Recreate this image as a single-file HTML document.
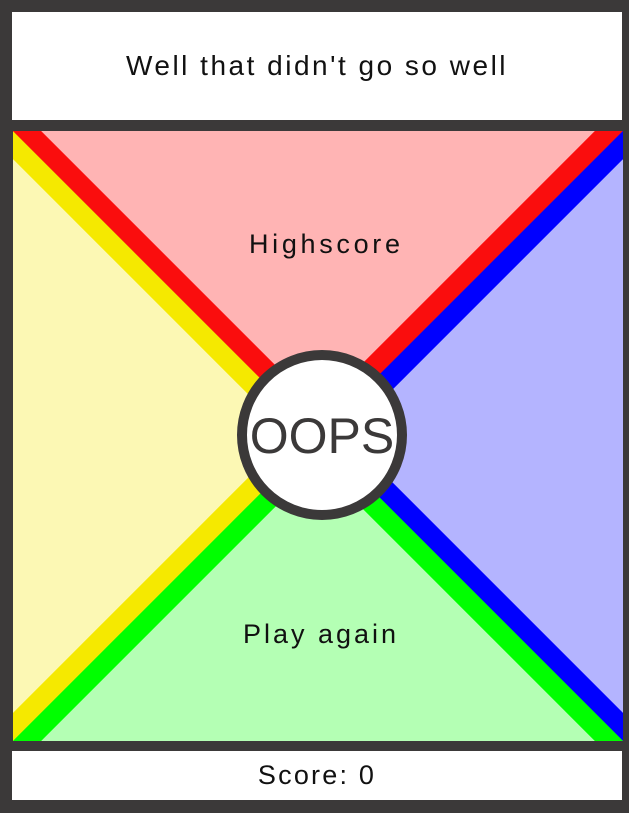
<!DOCTYPE html>
<html><head><meta charset="utf-8"><style>
body{margin:0;width:629px;height:813px;background:#3b3939;position:relative;overflow:hidden;font-family:"Liberation Sans",sans-serif;}
.box{position:absolute;background:#fff;color:#111;display:flex;align-items:center;justify-content:center;}
</style></head><body>
<div class="box" style="left:12px;top:12px;width:610px;height:108px;font-size:28px;letter-spacing:2.5px;">Well that didn't go so well</div>
<svg style="position:absolute;left:13px;top:131px" width="610" height="610" viewBox="0 0 610 610">
<defs><clipPath id="c"><rect width="610" height="610"/></clipPath></defs>
<g clip-path="url(#c)">
<polygon points="0,0 610,0 305,305" fill="#ffb4b4"/>
<polygon points="0,0 0,610 305,305" fill="#fcf8b4"/>
<polygon points="610,0 610,610 305,305" fill="#b4b4ff"/>
<polygon points="0,610 610,610 305,305" fill="#b4ffb4"/>
<line x1="-7" y1="7" x2="298" y2="312" stroke="#f5e900" stroke-width="20"/>
<line x1="7" y1="-7" x2="312" y2="298" stroke="#fa0d0d" stroke-width="20"/>
<line x1="603" y1="-7" x2="298" y2="298" stroke="#fa0d0d" stroke-width="20"/>
<line x1="617" y1="7" x2="312" y2="312" stroke="#0000ff" stroke-width="20"/>
<line x1="-7" y1="603" x2="298" y2="298" stroke="#f5e900" stroke-width="20"/>
<line x1="7" y1="617" x2="312" y2="312" stroke="#00ff00" stroke-width="20"/>
<line x1="617" y1="603" x2="312" y2="298" stroke="#0000ff" stroke-width="20"/>
<line x1="603" y1="617" x2="298" y2="312" stroke="#00ff00" stroke-width="20"/>
</g>
<text x="236" y="122" font-size="27" textLength="151" lengthAdjust="spacing" fill="#111" font-family="Liberation Sans, sans-serif">Highscore</text>
<text x="230" y="512" font-size="27" textLength="153" lengthAdjust="spacing" fill="#111" font-family="Liberation Sans, sans-serif">Play again</text>
<circle cx="309" cy="304" r="80" fill="#fff" stroke="#3b3939" stroke-width="10"/>
<text x="309" y="322" font-size="50" text-anchor="middle" fill="#3b3939" font-family="Liberation Sans, sans-serif">OOPS</text>
</svg>
<div class="box" style="left:12px;top:751px;width:610px;height:49px;font-size:27px;letter-spacing:2.2px;">Score: 0</div>
</body></html>
